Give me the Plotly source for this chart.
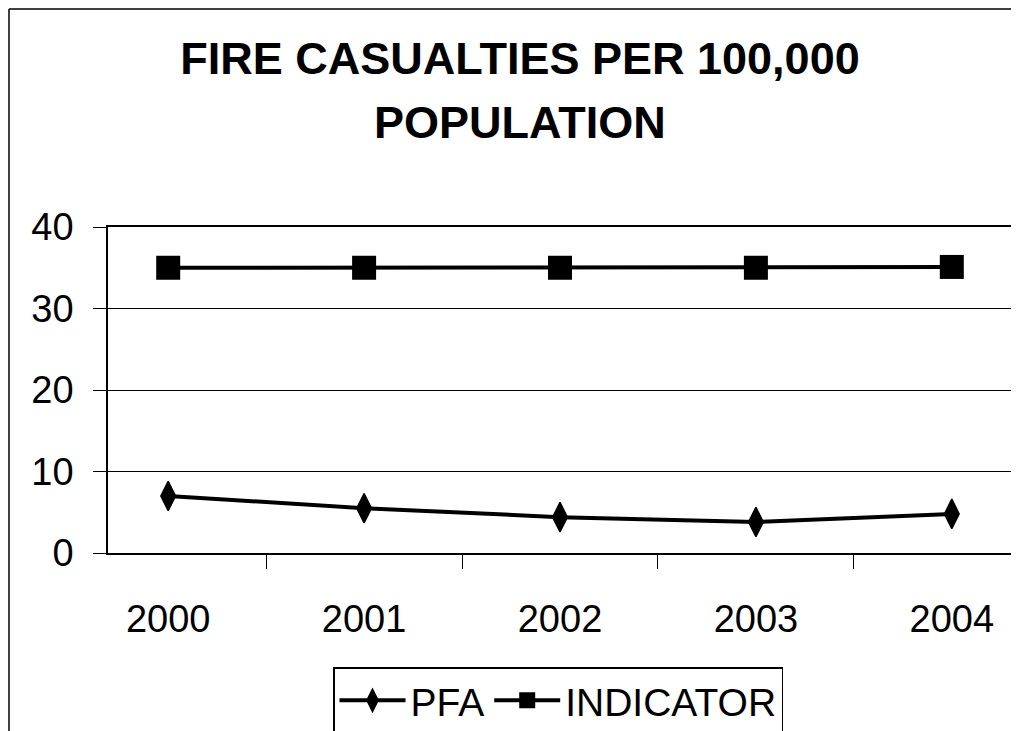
import plotly.graph_objects as go

years = ["2000", "2001", "2002", "2003", "2004"]
pfa = [7.0, 5.5, 4.4, 3.8, 4.8]
indicator = [35.0, 35.0, 35.0, 35.0, 35.1]
y_ticks = [0, 10, 20, 30, 40]
title_line1 = "FIRE CASUALTIES PER 100,000"
title_line2 = "POPULATION"

FONT = "Liberation Sans, Arial, Helvetica, sans-serif"

fig = go.Figure()
fig.add_trace(go.Scatter(
    x=years, y=pfa, name="PFA", mode="lines+markers",
    line=dict(color="black", width=4),
    marker=dict(symbol="diamond-tall", size=21, color="black",
                line=dict(color="black", width=1.5)),
))
fig.add_trace(go.Scatter(
    x=years, y=indicator, name="INDICATOR", mode="lines+markers",
    line=dict(color="black", width=4),
    marker=dict(symbol="square", size=24, color="black"),
))

# the page body has an 8px default margin; work in screen pixels minus that offset
OFF = 8
W, H = 1019 - OFF, 731 - OFF
L, R, T, B = 108 - OFF, 1012 - OFF, 227 - OFF, 553 - OFF

fig.update_layout(
    width=W, height=H,
    margin=dict(l=L, r=W - R, t=T, b=H - B, pad=0, autoexpand=False),
    paper_bgcolor="white", plot_bgcolor="white",
    font=dict(family=FONT, color="black", size=38),
    title=dict(
        text="<b>" + title_line1 + "</b>",
        x=(520 - OFF) / W, xanchor="center",
        y=1 - (43 - 1 - OFF) / H, yanchor="top",
        font=dict(size=45, family=FONT, color="black"),
        automargin=False,
    ),
    showlegend=True,
    legend=dict(
        orientation="h", x=(558 - OFF) / W, xref="container", xanchor="center",
        y=1 - (667 - OFF) / H, yref="container", yanchor="top",
        bordercolor="black", borderwidth=1.5, bgcolor="white",
        font=dict(size=39, family=FONT, color="black"),
        itemwidth=66, tracegroupgap=0,
    ),
    xaxis=dict(
        type="category", showgrid=False, zeroline=False, automargin=False,
        showline=True, linecolor="black", linewidth=1.5, mirror=True,
        ticks="outside", tickson="boundaries", ticklen=14, tickcolor="black", tickwidth=1.2,
        ticklabelstandoff=32,
    ),
    yaxis=dict(
        range=[0, 40], tickvals=y_ticks, showgrid=True, gridcolor="black", gridwidth=1,
        zeroline=False, showline=True, linecolor="black", linewidth=1.5, mirror=True,
        automargin=False,
        ticks="outside", ticklen=13, tickcolor="black", tickwidth=1.2,
        ticklabelstandoff=12,
    ),
)

# second title line, placed to reproduce the reference's wider line spacing
fig.add_annotation(
    text="<b>" + title_line2 + "</b>", xref="paper", yref="paper",
    x=(520 - OFF - L) / (R - L), y=(B - (108 - 13 - OFF)) / (B - T),
    xanchor="center", yanchor="top", showarrow=False,
    font=dict(size=45, family=FONT, color="black"),
)

# outer chart border (left and top edges visible in the reference)
px = lambda v: (v - OFF - L) / (R - L)
py = lambda v: (B - (v - OFF)) / (B - T)
fig.add_shape(type="line", xref="paper", yref="paper",
              x0=px(9), x1=px(9), y0=py(740), y1=py(9),
              line=dict(color="black", width=1.5))
fig.add_shape(type="line", xref="paper", yref="paper",
              x0=px(9), x1=px(1019), y0=py(9), y1=py(9),
              line=dict(color="black", width=1.5))

fig.write_html("out.html", post_script="document.body.style.overflow='hidden';")
